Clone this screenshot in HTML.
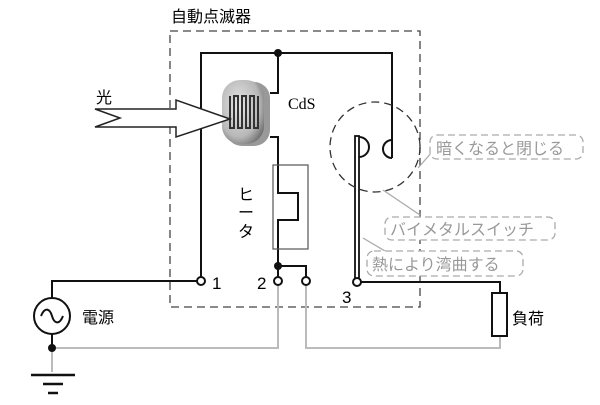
<!DOCTYPE html>
<html><head><meta charset="utf-8"><style>
body{margin:0;background:#fff;width:600px;height:400px;overflow:hidden}
text{font-family:"Liberation Sans","Noto Sans CJK JP",sans-serif}
</style></head><body>
<svg width="600" height="400" viewBox="0 0 600 400" xmlns="http://www.w3.org/2000/svg">
<defs>
<radialGradient id="g" cx="0.4" cy="0.4" r="0.7"><stop offset="0" stop-color="#e6e6e6"/><stop offset="0.7" stop-color="#b8b8b8"/><stop offset="1" stop-color="#707070"/></radialGradient>
</defs>
<text x="171" y="22" font-size="16">自動点滅器</text>
<rect x="170" y="31" width="250" height="276" fill="none" stroke="#444" stroke-width="1.3" stroke-dasharray="8,5"/>
<g stroke="#bbb" stroke-width="2" fill="none">
<polyline points="278,285 278,348 52,348 52,372"/>
<polyline points="306,285 306,348 500,348 500,336"/>
</g>
<g stroke="#111" stroke-width="2" fill="none">
<polyline points="201,278 201,53 392,53 392,158"/>
<path d="M392,140 A9,9 0 0 0 392,158"/>
<polyline points="278,53 278,93 270,93"/>
<polyline points="270,137 278,137 278,193 298,193 298,220 278,220 278,278"/>
<polyline points="278,266 306,266 306,278"/>
<polyline points="52,298 52,281 197,281"/>
<line x1="52" y1="334" x2="52" y2="348"/>
<polyline points="361,282 500,282 500,293"/>
<rect x="492" y="293" width="15" height="43"/>
<path d="M359,137 A10,10 0 0 1 359,157"/>
</g>
<rect x="273" y="165" width="35" height="84" fill="none" stroke="#555" stroke-width="1.2"/>
<rect x="355" y="136" width="4" height="143" fill="#fff" stroke="#111" stroke-width="1.8"/>
<g fill="#fff" stroke="#111" stroke-width="2">
<circle cx="201" cy="281" r="4"/><circle cx="278" cy="281" r="4"/><circle cx="306" cy="281" r="4"/><circle cx="357" cy="282" r="4"/>
</g>
<circle cx="278" cy="53" r="4" fill="#111"/><circle cx="278" cy="266" r="4" fill="#111"/><circle cx="52" cy="348" r="4" fill="#111"/>
<circle cx="52" cy="316" r="18" fill="#fff" stroke="#111" stroke-width="2"/>
<path d="M41,316 C45,306 50,309 52,316 C54,323 59,326 63,316" fill="none" stroke="#111" stroke-width="2"/>
<g stroke="#111" stroke-width="2.5"><line x1="31" y1="375" x2="75" y2="375"/><line x1="43" y1="384" x2="63" y2="384"/><line x1="48" y1="393" x2="58" y2="393"/></g>
<text x="82" y="323" font-size="16">電源</text>
<text x="512" y="324" font-size="16">負荷</text>
<text x="212" y="289" font-size="17">1</text>
<text x="257" y="289" font-size="17">2</text>
<text x="342" y="303" font-size="17">3</text>
<rect x="226" y="82" width="44" height="64" rx="16" fill="#555" opacity="0.6"/>
<rect x="222" y="80" width="42" height="64" rx="18" fill="url(#g)"/>
<path d="M230,96 v32 h4 v-32 h4 v32 h4 v-32 h4 v32 h4 v-32 h4 v32 h4 v-32" fill="none" stroke="#333" stroke-width="2"/>
<text x="288" y="109" font-size="16" style="font-family:'Liberation Serif',serif">CdS</text>
<text x="238" y="200" font-size="16">ヒ</text>
<text x="238" y="218" font-size="16">ー</text>
<text x="238" y="237" font-size="16">タ</text>
<polygon points="95,109 176,109 176,100 230,119 176,137 176,127 95,127 120,118" fill="#fff" stroke="#222" stroke-width="1.5"/>
<text x="96" y="103" font-size="16">光</text>
<circle cx="375" cy="147" r="45" fill="none" stroke="#333" stroke-width="1.3" stroke-dasharray="8,5"/>
<g stroke="#aaa" stroke-width="1.3" fill="none">
<line x1="418" y1="168" x2="432" y2="152"/>
<line x1="420" y1="215" x2="383" y2="190"/>
<line x1="385" y1="251" x2="363" y2="238"/>
<g stroke-dasharray="7,4">
<rect x="430" y="135" width="153" height="24" rx="7" fill="#fff"/>
<rect x="385" y="217" width="170" height="23" rx="7" fill="#fff"/>
<rect x="367" y="251" width="156" height="25" rx="7" fill="#fff"/>
</g>
</g>
<g fill="#999" font-size="16">
<text x="436" y="154">暗くなると閉じる</text>
<text x="390" y="235">バイメタルスイッチ</text>
<text x="372" y="270">熱により湾曲する</text>
</g>
</svg>
</body></html>
